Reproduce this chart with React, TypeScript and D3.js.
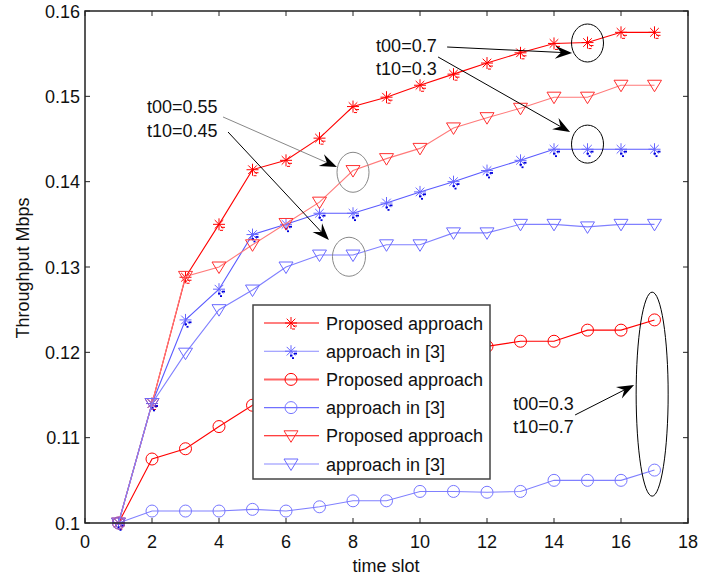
import React from "react";
import * as d3 from "d3";

const slots = [1, 2, 3, 4, 5, 6, 7, 8, 9, 10, 11, 12, 13, 14, 15, 16, 17];
// t00=0.7
const propStar = [0.1, 0.1140, 0.1288, 0.1350, 0.1414, 0.1425, 0.1451, 0.1488, 0.1499, 0.1513, 0.1526, 0.1539, 0.1551, 0.1562, 0.1563, 0.1575, 0.1575];
const refStar = [0.1, 0.1140, 0.1238, 0.1274, 0.1338, 0.1350, 0.1363, 0.1363, 0.1375, 0.1388, 0.1400, 0.1413, 0.1425, 0.1438, 0.1438, 0.1438, 0.1438];
// t00=0.3
const propCircle = [0.1, 0.1075, 0.1087, 0.1113, 0.1138, 0.1150, 0.1165, 0.1178, 0.1188, 0.1195, 0.1202, 0.1207, 0.1213, 0.1213, 0.1226, 0.1226, 0.1238];
const refCircle = [0.1, 0.1014, 0.1014, 0.1014, 0.1016, 0.1014, 0.1019, 0.1026, 0.1026, 0.1037, 0.1037, 0.1036, 0.1037, 0.1050, 0.1050, 0.1050, 0.1062];
// t00=0.55
const propTri = [0.1, 0.1140, 0.1289, 0.1300, 0.1326, 0.1351, 0.1376, 0.1413, 0.1427, 0.1439, 0.1463, 0.1475, 0.1486, 0.1499, 0.1499, 0.1513, 0.1513];
const refTri = [0.1, 0.1140, 0.1199, 0.1250, 0.1273, 0.1300, 0.1314, 0.1314, 0.1326, 0.1326, 0.1340, 0.1340, 0.1350, 0.1350, 0.1347, 0.1350, 0.1350];

const xTicks = [0, 2, 4, 6, 8, 10, 12, 14, 16, 18];
const yTicks = [0.1, 0.11, 0.12, 0.13, 0.14, 0.15, 0.16];
const legendLabels = ["Proposed approach", "approach in [3]", "Proposed approach", "approach in [3]", "Proposed approach", "approach in [3]"];

type Marker = "star" | "bstar" | "circle" | "tri";
const seriesDefs: { values: number[]; color: string; legColor: string; marker: Marker; mcolor: string }[] = [
  { values: propStar, color: "#ff0000", legColor: "#ff0000", marker: "star", mcolor: "#ff0000" },
  { values: refStar, color: "#5a5aff", legColor: "#8a8aff", marker: "bstar", mcolor: "#6666ff" },
  { values: propCircle, color: "#ff0000", legColor: "#ff6666", marker: "circle", mcolor: "#ff0000" },
  { values: refCircle, color: "#8080ff", legColor: "#7070ff", marker: "circle", mcolor: "#7777ff" },
  { values: propTri, color: "#ff7a7a", legColor: "#ff0000", marker: "tri", mcolor: "#ff3030" },
  { values: refTri, color: "#8080ff", legColor: "#8a8aff", marker: "tri", mcolor: "#6a6aff" },
];

// annotation texts / arrows / ellipses in data units
const annoTexts = [
  { x: 8.69, y: 0.1552, t: "t00=0.7" },
  { x: 8.69, y: 0.1525, t: "t10=0.3" },
  { x: 1.85, y: 0.14805, t: "t00=0.55" },
  { x: 1.85, y: 0.14523, t: "t10=0.45" },
  { x: 12.78, y: 0.11324, t: "t00=0.3" },
  { x: 12.78, y: 0.11055, t: "t10=0.7" },
];
const annoArrows = [
  { x1: 10.81, y1: 0.15578, x2: 14.54, y2: 0.15508, c: "#000" },
  { x1: 10.54, y1: 0.15461, x2: 14.48, y2: 0.14582, c: "#000" },
  { x1: 4.12, y1: 0.14758, x2: 7.52, y2: 0.14172, c: "#888" },
  { x1: 4.27, y1: 0.14582, x2: 7.28, y2: 0.13316, c: "#000" },
  { x1: 14.63, y1: 0.11266, x2: 16.39, y2: 0.11617, c: "#000" },
];
const annoEllipses = [
  { x: 15.0, y: 0.15625, rx: 16, ry: 19, c: "#000" },
  { x: 15.0, y: 0.1444, rx: 16, ry: 19, c: "#000" },
  { x: 8.0, y: 0.1411, rx: 16, ry: 20, c: "#888" },
  { x: 7.88, y: 0.1312, rx: 16.5, ry: 19.5, c: "#888" },
  { x: 16.93, y: 0.1151, rx: 16, ry: 102, c: "#000" },
];

const W = 723, H = 580;
const L = 85, R = 688, T = 11, B = 523;
const FONT = "'Liberation Sans', Arial, sans-serif";

function MarkerShape({ kind, x, y, c }: { kind: Marker; x: number; y: number; c: string }) {
  if (kind === "circle") return <circle cx={x} cy={y} r={6} fill="none" stroke={c} strokeWidth={1} />;
  if (kind === "tri")
    return <path d={`M${x - 7},${y - 5}L${x + 7},${y - 5}L${x},${y + 6.5}Z`} fill="none" stroke={c} strokeWidth={1} />;
  const r = 6, d = 4.3;
  const star = (
    <g stroke={c} strokeWidth={1}>
      <line x1={x - r} y1={y} x2={x + r} y2={y} />
      <line x1={x} y1={y - r} x2={x} y2={y + r} />
      <line x1={x - d} y1={y - d} x2={x + d} y2={y + d} />
      <line x1={x - d} y1={y + d} x2={x + d} y2={y - d} />
    </g>
  );
  if (kind === "star")
    return (
      <g>
        {star}
        <g stroke={c} strokeWidth={1}>
          <line x1={x + 2} y1={y + 3} x2={x + 6} y2={y + 3} />
          <line x1={x + 1} y1={y + 6} x2={x + 4} y2={y + 6} />
        </g>
      </g>
    );
  return (
    <g>
      {star}
      <g fill="#0000dd">
        <rect x={x + 3} y={y + 1.5} width={3} height={1.8} />
        <rect x={x - 1} y={y + 3.5} width={2.5} height={1.8} />
        <rect x={x + 1} y={y + 6} width={2} height={1.8} />
      </g>
    </g>
  );
}

function Arrow({ x1, y1, x2, y2, c }: { x1: number; y1: number; x2: number; y2: number; c: string }) {
  const dx = x2 - x1, dy = y2 - y1;
  const len = Math.hypot(dx, dy);
  const ux = dx / len, uy = dy / len;
  const nx = -uy, ny = ux;
  const Lh = 17, Wh = 6.5, notch = 11;
  const p1 = [x2 - Lh * ux + Wh * nx, y2 - Lh * uy + Wh * ny];
  const p2 = [x2 - notch * ux, y2 - notch * uy];
  const p3 = [x2 - Lh * ux - Wh * nx, y2 - Lh * uy - Wh * ny];
  return (
    <g>
      <line x1={x1} y1={y1} x2={x2 - notch * ux} y2={y2 - notch * uy} stroke={c} strokeWidth={1} />
      <path d={`M${x2},${y2}L${p1[0]},${p1[1]}L${p2[0]},${p2[1]}L${p3[0]},${p3[1]}Z`} fill="#000" />
    </g>
  );
}

export default function App() {
  const x = d3.scaleLinear().domain([0, 18]).range([L, R]);
  const y = d3.scaleLinear().domain([0.1, 0.16]).range([B, T]);
  const line = d3
    .line<number>()
    .x((_, i) => x(slots[i]))
    .y((v) => y(v));

  const legX = 253, legY = 305, legW = 237, legH = 174;
  const rowH = 28.2;

  return (
    <svg width={W} height={H} style={{ position: "absolute", left: 0, top: 0, background: "#fff" }} fontFamily={FONT}>
      <rect x={0} y={0} width={W} height={H} fill="#fff" />
      {/* series */}
      {seriesDefs.map((s, si) => (
        <g key={si}>
          <path d={line(s.values) || ""} fill="none" stroke={s.color} strokeWidth={1.1} />
          {s.values.map((v, i) => (
            <MarkerShape key={i} kind={s.marker} x={x(slots[i])} y={y(v)} c={s.mcolor} />
          ))}
        </g>
      ))}

      {/* frame and ticks */}
      <rect x={L} y={T} width={R - L} height={B - T} fill="none" stroke="#222" strokeWidth={1.5} />
      {xTicks.map((t) => (
        <g key={"x" + t}>
          <line x1={x(t)} y1={B} x2={x(t)} y2={B - 5} stroke="#222" />
          <line x1={x(t)} y1={T} x2={x(t)} y2={T + 5} stroke="#222" />
          <text x={x(t)} y={548} textAnchor="middle" fontSize={18} fill="#111">
            {t}
          </text>
        </g>
      ))}
      {yTicks.map((t) => (
        <g key={"y" + t}>
          <line x1={L} y1={y(t)} x2={L + 5} y2={y(t)} stroke="#222" />
          <line x1={R} y1={y(t)} x2={R - 5} y2={y(t)} stroke="#222" />
          <text x={80} y={y(t) + 6.5} textAnchor="end" fontSize={18} fill="#111">
            {d3.format("")(Number(t.toFixed(2)))}
          </text>
        </g>
      ))}
      <text x={386} y={572} textAnchor="middle" fontSize={18} fill="#111">
        time slot
      </text>
      <text transform={`translate(29,268) rotate(-90)`} textAnchor="middle" fontSize={18} fill="#111">
        Throughput Mbps
      </text>

      {/* annotations */}
      {annoEllipses.map((e, i) => (
        <ellipse key={"e" + i} cx={x(e.x)} cy={y(e.y)} rx={e.rx} ry={e.ry} fill="none" stroke={e.c} strokeWidth={1} />
      ))}
      {annoArrows.map((a, i) => (
        <Arrow key={"a" + i} x1={x(a.x1)} y1={y(a.y1)} x2={x(a.x2)} y2={y(a.y2)} c={a.c} />
      ))}
      {annoTexts.map((t, i) => (
        <text key={"t" + i} x={x(t.x)} y={y(t.y)} fontSize={18} fill="#111">
          {t.t}
        </text>
      ))}

      {/* legend */}
      <rect x={legX} y={legY} width={legW} height={legH} fill="#fff" stroke="#444" strokeWidth={1.5} />
      {seriesDefs.map((s, i) => {
        const cy = legY + 18 + i * rowH;
        return (
          <g key={"l" + i}>
            <line x1={264} y1={cy} x2={319} y2={cy} stroke={s.legColor} strokeWidth={i === 2 ? 2 : 1.1} />
            <MarkerShape kind={s.marker} x={291} y={cy} c={s.mcolor} />
            <text x={326} y={cy + 6.5} fontSize={18} fill="#111">
              {legendLabels[i]}
            </text>
          </g>
        );
      })}
    </svg>
  );
}
